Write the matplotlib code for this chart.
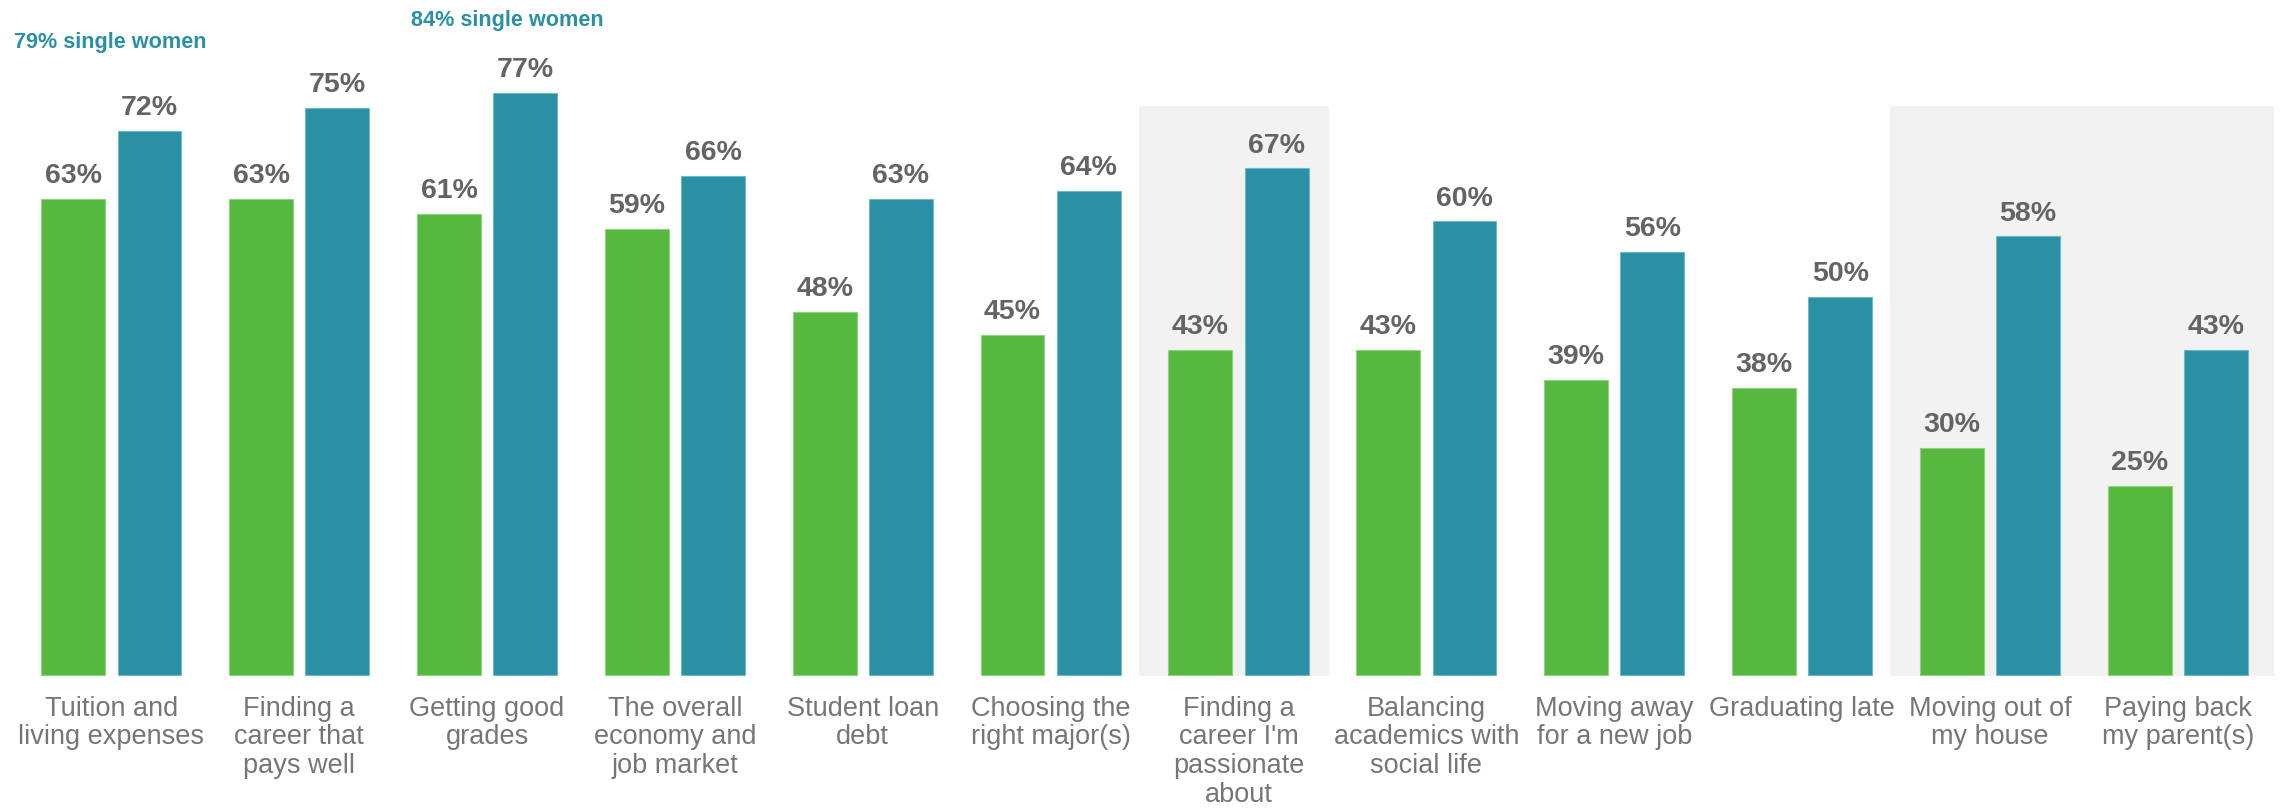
import matplotlib
matplotlib.use("Agg")
import matplotlib.pyplot as plt
from matplotlib.patches import Rectangle

plt.rcParams['font.family'] = ['Liberation Sans', 'DejaVu Sans']

categories = [
    "Tuition and\nliving expenses",
    "Finding a\ncareer that\npays well",
    "Getting good\ngrades",
    "The overall\neconomy and\njob market",
    "Student loan\ndebt",
    "Choosing the\nright major(s)",
    "Finding a\ncareer I'm\npassionate\nabout",
    "Balancing\nacademics with\nsocial life",
    "Moving away\nfor a new job",
    "Graduating late",
    "Moving out of\nmy house",
    "Paying back\nmy parent(s)",
]
series_a = [63, 63, 61, 59, 48, 45, 43, 43, 39, 38, 30, 25]
series_b = [72, 75, 77, 66, 63, 64, 67, 60, 56, 50, 58, 43]

# callouts: (category index, text)
callouts = [(0, "79% single women"), (2, "84% single women")]
# highlighted category spans (first index, last index)
highlights = [(6, 6), (10, 11)]

GREEN = "#56B83E"
TEAL = "#2A90A3"
VALUE_GRAY = "#646464"
CAT_GRAY = "#767676"
SHADE = "#F2F2F2"

fig = plt.figure(figsize=(22.82, 8.12), dpi=100)
ax = fig.add_axes([0, 0, 1, 1])
ax.set_xlim(-0.593, 11.555)
ax.set_ylim(-18.0, 89.4)
ax.axis("off")

# shaded backgrounds behind highlighted categories
for lo, hi in highlights:
    left = lo - 0.53
    right = hi + 0.51 if hi > lo else hi + 0.48
    ax.add_patch(Rectangle((left, -0.2), right - left, 75.5,
                           facecolor=SHADE, edgecolor="none", zorder=0))

x = list(range(len(categories)))
off = 0.203
w = 0.34
xa = [i - off for i in x]
xb = [i + off for i in x]
ax.bar(xa, series_a, width=w, color=GREEN, edgecolor="#8FD27F",
       linewidth=0.8, zorder=2)
ax.bar(xb, series_b, width=w, color=TEAL, edgecolor="#72B9C7",
       linewidth=0.8, zorder=2)

for xi, v in zip(xa, series_a):
    ax.text(xi, v + 2.2, f"{v}%", ha="center", va="baseline",
            fontsize=20.5, fontweight="bold", color=VALUE_GRAY, zorder=3)
for xi, v in zip(xb, series_b):
    ax.text(xi, v + 2.2, f"{v}%", ha="center", va="baseline",
            fontsize=20.5, fontweight="bold", color=VALUE_GRAY, zorder=3)

for i, lab in enumerate(categories):
    ax.text(i, -2.6, lab, ha="center", va="top", fontsize=19.5,
            color=CAT_GRAY, linespacing=1.14, zorder=3)

callout_pos = {0: (-0.518, 83.0), 2: (1.595, 86.0)}
for idx, txt in callouts:
    cx, cy = callout_pos[idx]
    ax.text(cx, cy, txt, ha="left", va="baseline", fontsize=15.6,
            fontweight="bold", color=TEAL, zorder=3)

fig.savefig("out.png", dpi=100, facecolor="white")
